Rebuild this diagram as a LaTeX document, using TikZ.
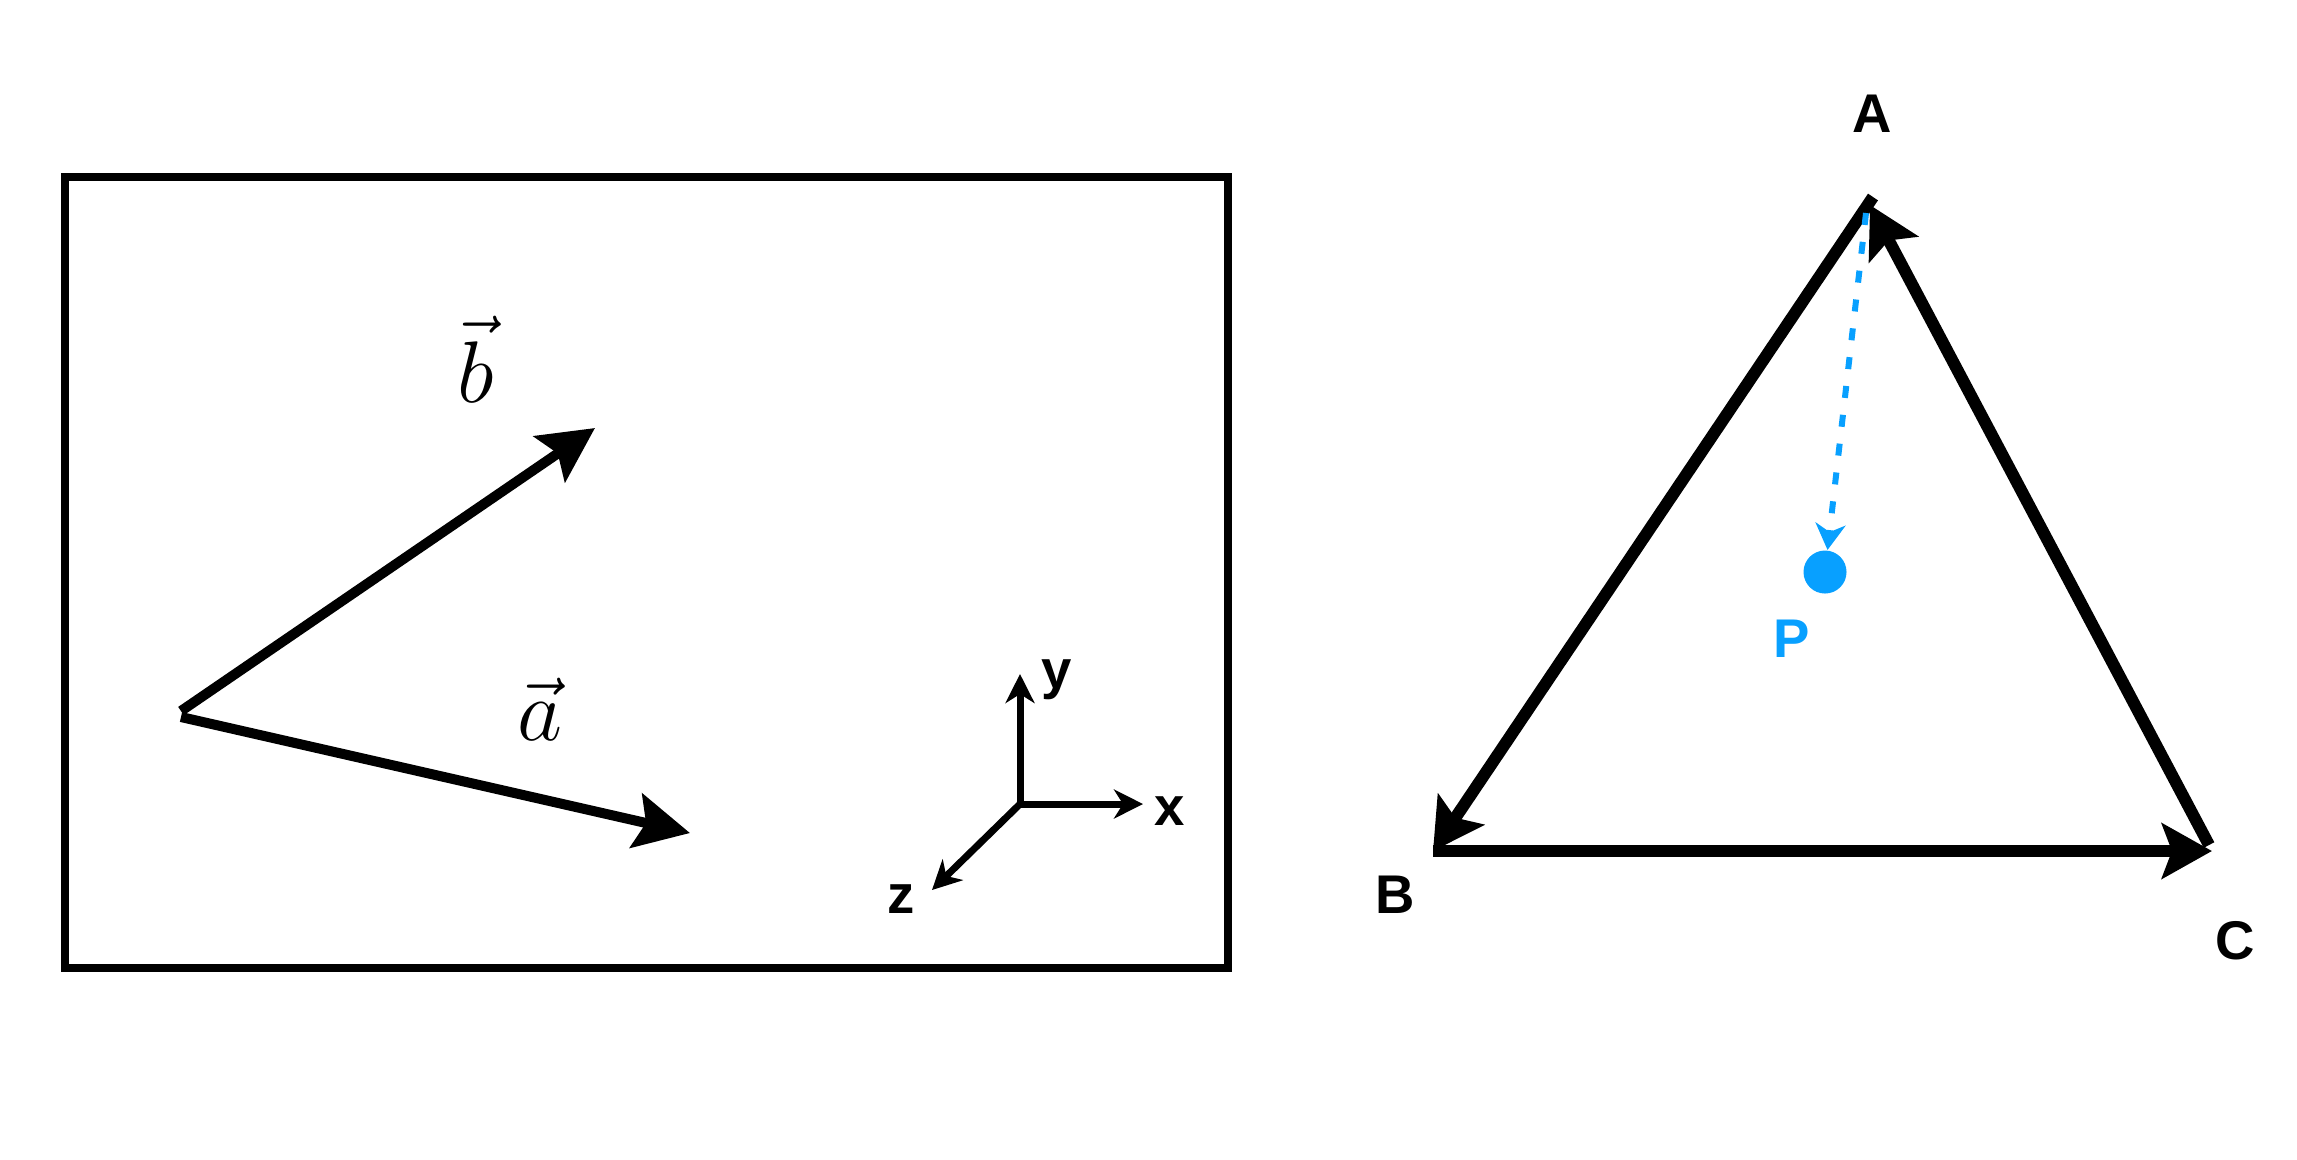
\documentclass[tikz,border=0pt]{standalone}
\usepackage{fontspec}
\setsansfont{Liberation Sans}
\usetikzlibrary{arrows.meta}
\definecolor{pblue}{RGB}{8,160,255}

\begin{document}
\begin{tikzpicture}[x=0.01cm,y=-0.01cm,
  vec/.style={line width=0.1cm,-{Stealth[length=0.55cm,width=0.55cm,inset=0.1cm]}},
  axis/.style={line width=0.07cm,-{Stealth[length=0.29cm,width=0.29cm,inset=0.09cm]}},
  side/.style={line width=0.12cm,-{Stealth[length=0.5cm,width=0.55cm,inset=0.1cm]}},
  lab/.style={anchor=base,inner sep=0pt,font=\sffamily\bfseries\fontsize{15.5}{18}\selectfont},
  veclab/.style={anchor=base,inner sep=0pt,font=\fontsize{28}{34}\selectfont}]
\useasboundingbox (0,0) rectangle (2297,1159);
\draw[line width=0.08cm] (65,177) rectangle (1228,968);
\coordinate (tb) at (181,711);
\coordinate (hb) at (595,428);
\coordinate (ta) at (181,717);
\coordinate (ha) at (690,833);
\draw[vec] (tb) -- (hb);
\draw[vec] (ta) -- (ha);
\node[veclab] (lb) at (476,402) {$\vec{b}$};
\node[veclab] (la) at (540,740) {$\vec{a}$};
\coordinate (o) at (1020,804);
\coordinate (xe) at (1143,804);
\coordinate (ye) at (1020,674);
\coordinate (ze) at (932,890);
\draw[axis] (o) -- (ye);
\draw[axis] (1016.5,804) -- (xe);
\draw[axis] (o) -- (ze);
\node[lab] (lx) at (1170,825) {x};
\node[lab] (ly) at (1057,688) {y};
\node[lab] (lz) at (901,913) {z};
\coordinate (A) at (1873,197);
\coordinate (B) at (1433,851);
\coordinate (C) at (2212,851);
\coordinate (Cs) at (2209,845);
\coordinate (At) at (1870,205);
\draw[side] (A) -- (B);
\draw[side] (B) -- (C);
\draw[side] (Cs) -- (At);
\node[lab] (lA) at (1872,132) {A};
\node[lab] (lB) at (1395,913) {B};
\node[lab] (lC) at (2235,959) {C};
\node[circle,fill=pblue,inner sep=0pt,minimum size=0.43cm] (P) at (1825,572) {};
\coordinate (Ad) at (1866,213);
\draw[pblue,line width=0.06cm,dash pattern=on 0.12cm off 0.17cm,-{Stealth[length=0.26cm,width=0.3cm,inset=0.08cm]}] (Ad) -- (P);
\node[lab,pblue] (lP) at (1792,657) {P};
\end{tikzpicture}
\end{document}
